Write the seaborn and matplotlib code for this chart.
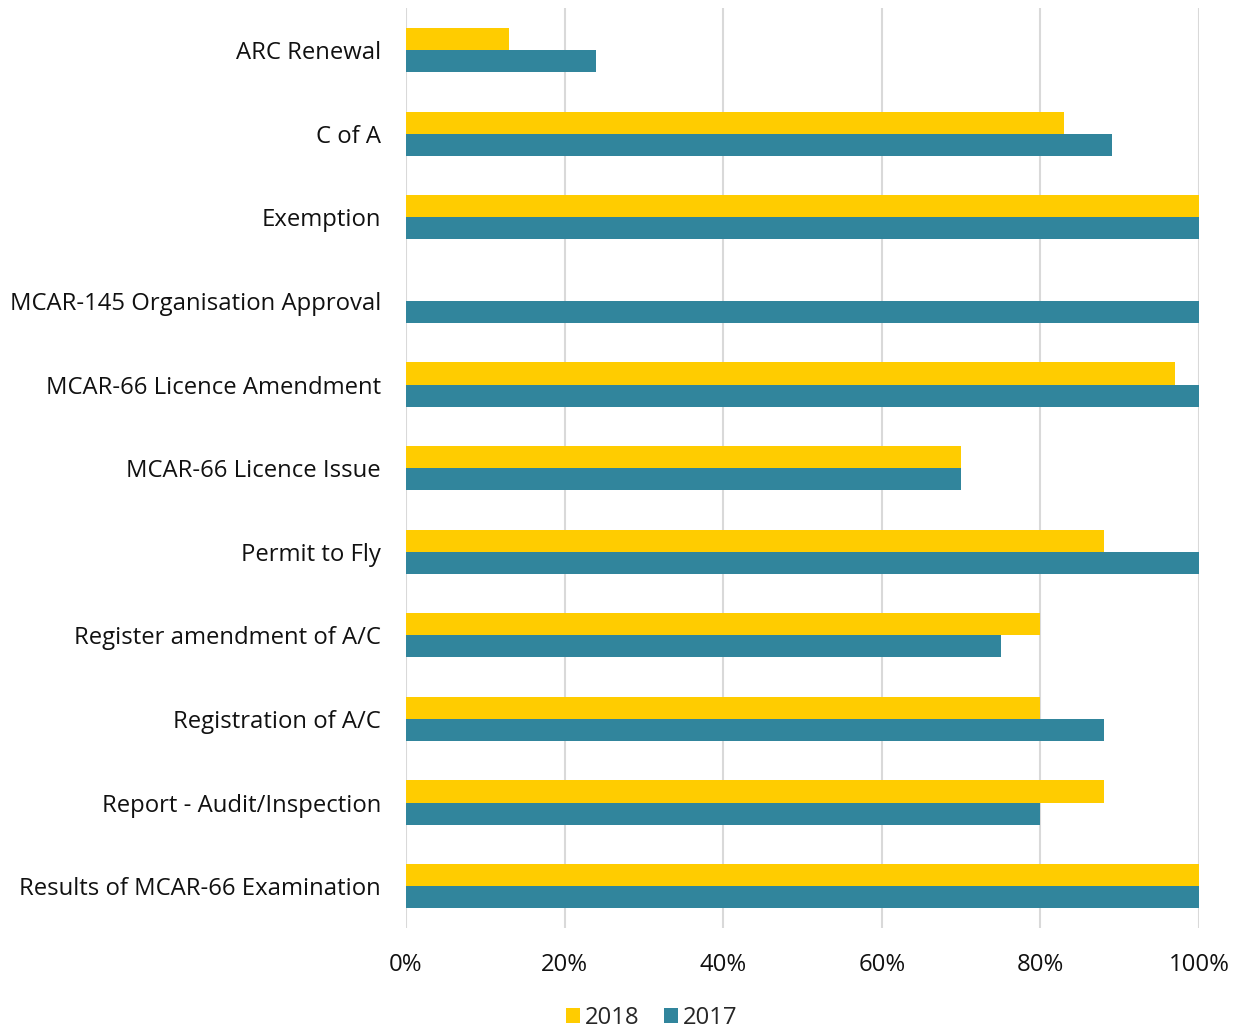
import pandas as pd
import numpy as np
import seaborn as sns
import matplotlib.pyplot as plt
from matplotlib.ticker import PercentFormatter

sns.set_style('white')
plt.rcParams['font.family'] = ['Open Sans', 'DejaVu Sans']

categories = ['ARC Renewal', 'C of A', 'Exemption', 'MCAR-145 Organisation Approval',
              'MCAR-66 Licence Amendment', 'MCAR-66 Licence Issue', 'Permit to Fly',
              'Register amendment of A/C', 'Registration of A/C',
              'Report - Audit/Inspection', 'Results of MCAR-66 Examination']
values_2018 = [13, 83, 100, 0, 97, 70, 88, 80, 80, 88, 100]
values_2017 = [24, 89, 100, 100, 100, 70, 100, 75, 88, 80, 100]

df = pd.DataFrame({
    'Category': categories * 2,
    'Value': values_2018 + values_2017,
    'Year': ['2018'] * len(categories) + ['2017'] * len(categories),
})

fig = plt.figure(figsize=(12.39, 10.32), dpi=100)
ax = fig.add_axes([0.3277, 0.1008, 0.64, 0.8912])
sns.barplot(data=df, y='Category', x='Value', hue='Year', orient='h',
            palette={'2018': '#FFCC00', '2017': '#31859C'}, width=0.53,
            saturation=1, linewidth=0, ax=ax, zorder=3)

ax.set_xlim(0, 100)
ax.set_ylim(len(categories) - 0.5, -0.5)
ax.xaxis.set_major_formatter(PercentFormatter(decimals=0))
ax.set_xticks(np.arange(0, 101, 20))
ax.grid(axis='x', color='#D9D9D9', linewidth=1.5, zorder=0)
ax.set_axisbelow(True)
for s in ax.spines.values():
    s.set_visible(False)
ax.tick_params(axis='both', length=0, labelsize=17.2, colors='#111111')
ax.tick_params(axis='y', pad=18)
ax.tick_params(axis='x', pad=18)
ax.set_xlabel('')
ax.set_ylabel('')

handles, labels = ax.get_legend_handles_labels()
ax.get_legend().remove()
fig.legend(handles, labels, loc='center', bbox_to_anchor=(0.526, 0.0136),
           ncol=2, frameon=False, fontsize=17.2, handlelength=0.6, handleheight=0.6,
           handletextpad=0.2, columnspacing=1.0, borderpad=0)

plt.savefig('out.png', dpi=100)
